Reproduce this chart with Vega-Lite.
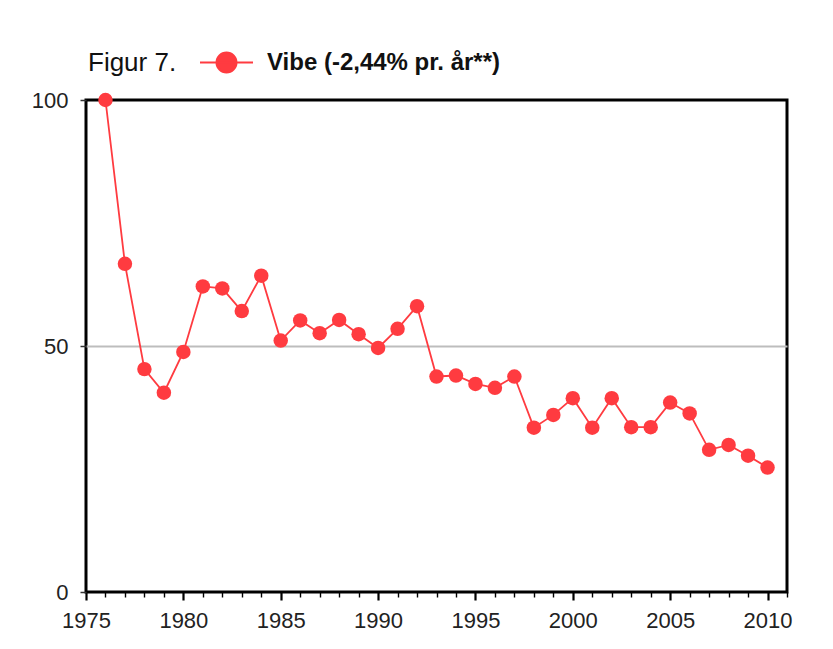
{
  "$schema": "https://vega.github.io/schema/vega-lite/v6.json",
  "autosize": {"type": "none"},
  "padding": {"left": 86, "top": 100, "right": 46, "bottom": 57},
  "width": 701,
  "height": 492,
  "background": "white",
  "config": {
    "view": {"stroke": "black", "strokeWidth": 3},
    "font": "Liberation Sans"
  },
  "data": {
    "values": [
      {"year": 1976, "value": 100},
      {"year": 1977, "value": 66.7},
      {"year": 1978, "value": 45.3},
      {"year": 1979, "value": 40.5},
      {"year": 1980, "value": 48.8},
      {"year": 1981, "value": 62.1},
      {"year": 1982, "value": 61.7},
      {"year": 1983, "value": 57.1},
      {"year": 1984, "value": 64.3},
      {"year": 1985, "value": 51.1},
      {"year": 1986, "value": 55.2},
      {"year": 1987, "value": 52.6},
      {"year": 1988, "value": 55.3},
      {"year": 1989, "value": 52.4},
      {"year": 1990, "value": 49.6},
      {"year": 1991, "value": 53.5},
      {"year": 1992, "value": 58.1},
      {"year": 1993, "value": 43.8},
      {"year": 1994, "value": 44.0},
      {"year": 1995, "value": 42.3},
      {"year": 1996, "value": 41.5},
      {"year": 1997, "value": 43.8},
      {"year": 1998, "value": 33.4},
      {"year": 1999, "value": 36.0},
      {"year": 2000, "value": 39.4},
      {"year": 2001, "value": 33.4},
      {"year": 2002, "value": 39.4},
      {"year": 2003, "value": 33.5},
      {"year": 2004, "value": 33.5},
      {"year": 2005, "value": 38.5},
      {"year": 2006, "value": 36.3},
      {"year": 2007, "value": 28.9},
      {"year": 2008, "value": 29.9},
      {"year": 2009, "value": 27.7},
      {"year": 2010, "value": 25.3}
    ]
  },
  "encoding": {
    "x": {
      "field": "year",
      "type": "quantitative",
      "scale": {"domain": [1975, 2011], "nice": false, "zero": false},
      "axis": {
        "title": null,
        "domain": false,
        "grid": false,
        "values": [1975,1976,1977,1978,1979,1980,1981,1982,1983,1984,1985,1986,1987,1988,1989,1990,1991,1992,1993,1994,1995,1996,1997,1998,1999,2000,2001,2002,2003,2004,2005,2006,2007,2008,2009,2010,2011],
        "labelExpr": "datum.value % 5 === 0 ? format(datum.value, 'd') : ''",
        "labelOverlap": false,
        "labelFlush": false,
        "labelFontSize": 22,
        "labelColor": "#222",
        "labelPadding": 10,
        "tickColor": "black",
        "tickSize": {"condition": {"test": "datum.value % 5 === 0", "value": 8}, "value": 5},
        "tickWidth": {"condition": {"test": "datum.value % 5 === 0", "value": 2.2}, "value": 1.4}
      }
    },
    "y": {
      "field": "value",
      "type": "quantitative",
      "scale": {"domain": [0, 100], "nice": false},
      "axis": {
        "title": null,
        "domain": false,
        "values": [0, 50, 100],
        "grid": true,
        "gridColor": "#bdbdbd",
        "gridWidth": 2,
        "gridOpacity": {"condition": {"test": "datum.value === 50", "value": 1}, "value": 0},
        "labelFontSize": 22,
        "labelColor": "#222",
        "labelPadding": 12,
        "tickSize": 6,
        "tickColor": "#333",
        "tickWidth": 1.5
      }
    }
  },
  "layer": [
    {
      "mark": {"type": "line", "color": "#ff3b40", "strokeWidth": 1.8}
    },
    {
      "mark": {"type": "point", "filled": true, "size": 210, "opacity": 1},
      "encoding": {
        "color": {
          "datum": "Vibe (-2,44% pr. år**)",
          "type": "nominal",
          "scale": {"range": ["#ff3b40"]},
          "legend": {
            "title": "Figur 7.",
            "titleOrient": "left",
            "titleAnchor": "end",
            "titleBaseline": "bottom",
            "titleFontSize": 26,
            "titleFontWeight": "normal",
            "titleFont": "Liberation Sans",
            "titleColor": "#111",
            "titlePadding": 22,
            "titleLimit": 200,
            "orient": "none",
            "legendX": 2,
            "legendY": -65,
            "padding": 0,
            "symbolType": "M-1,0H1M-0.377,0A0.377,0.377,0,1,1,0.377,0A0.377,0.377,0,1,1,-0.377,0Z",
            "symbolSize": 2809,
            "symbolFillColor": "#ff3b40",
            "symbolStrokeColor": "#ff3b40",
            "symbolStrokeWidth": 2,
            "symbolOpacity": 1,
            "labelFontSize": 24,
            "labelFontWeight": "bold",
            "labelFont": "Liberation Sans",
            "labelColor": "#111",
            "labelOffset": 13,
            "labelLimit": 400
          }
        }
      }
    }
  ]
}
